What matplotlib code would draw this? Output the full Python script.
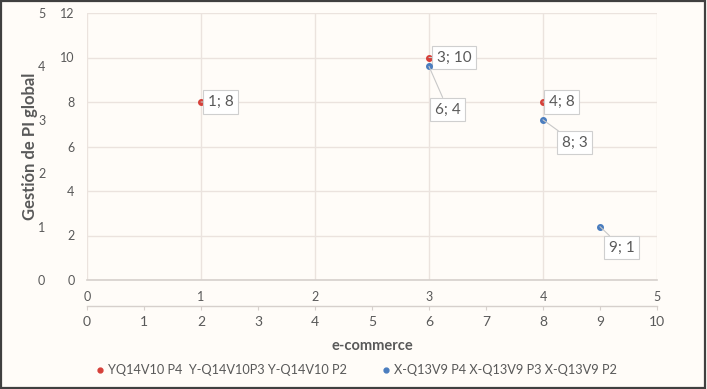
import matplotlib
matplotlib.use("Agg")
import matplotlib.pyplot as plt
from matplotlib.patches import Rectangle

plt.rcParams["font.family"] = ["Lato", "DejaVu Sans"]

# red series: secondary scales (x 0-5, y 0-12)
red_x = [1, 3, 4]
red_y = [8, 10, 8]
red_name = "YQ14V10 P4  Y-Q14V10P3 Y-Q14V10 P2"

# blue series: primary scales (x 0-10, y 0-5)
blue_x = [6, 8, 9]
blue_y = [4, 3, 1]
blue_name = "X-Q13V9 P4 X-Q13V9 P3 X-Q13V9 P2"

# label offsets in pixels (box left edge, box centre)
red_offsets = [(7, 0), (8, 0), (6, 0)]
blue_offsets = [(6, -43), (19, -23), (9, -21)]

bg = "#fffcf8"
text_c = "#595959"
grid_c = "#ebe3de"
red_c = "#d6403a"
blue_c = "#4a7dbf"

W, H = 707, 389
fig = plt.figure(figsize=(W / 100, H / 100), dpi=100)
fig.patch.set_facecolor(bg)
fig.patches.append(Rectangle((0.001, 0.002), 0.996, 0.995, transform=fig.transFigure,
                             fill=False, edgecolor="#404040", lw=1.6))

pos = [87 / W, 1 - 280 / H, 570 / W, 267 / H]
ax = fig.add_axes(pos)
ax.set_facecolor(bg)
ax.set_xlim(0, 5)
ax.set_ylim(0, 12)
ax.set_xticks(range(0, 6))
ax.set_yticks(range(0, 13, 2))
ax.grid(True, color=grid_c, lw=1.0)
ax.set_axisbelow(True)
for s in ["top", "right", "left"]:
    ax.spines[s].set_visible(False)
ax.spines["bottom"].set_color("#d6d0cc")
ax.spines["bottom"].set_linewidth(1.2)
ax.tick_params(axis="x", length=0, pad=8, labelsize=9, labelcolor=text_c)
ax.tick_params(axis="y", length=0, pad=9, labelsize=9, labelcolor=text_c)

ax2 = fig.add_axes(pos, sharex=None)
ax2.patch.set_visible(False)
ax2.set_xlim(0, 10)
ax2.set_ylim(0, 5)
ax2.set_xticks(range(0, 11))
ax2.set_yticks(range(0, 6))
for s in ["top", "right", "left"]:
    ax2.spines[s].set_visible(False)
ax2.spines["bottom"].set_position(("outward", 19))
ax2.spines["bottom"].set_color("#d6d0cc")
ax2.spines["bottom"].set_linewidth(1.0)
ax2.tick_params(axis="x", length=3, color="#d6d0cc", pad=4, labelsize=10, labelcolor=text_c)
ax2.tick_params(axis="y", length=0, pad=30, labelsize=9, labelcolor=text_c)

ax.scatter(red_x, red_y, s=16, color=red_c, zorder=5, clip_on=False)
ax2.scatter(blue_x, blue_y, s=16, color=blue_c, zorder=5, clip_on=False)

box = dict(boxstyle="square,pad=0.3", facecolor="white", edgecolor="#cfcfcf", lw=0.8)
arrow = dict(arrowstyle="-", color="#c8c8c8", lw=0.8, shrinkA=0, shrinkB=0)
for a, xs, ys, offs in [(ax, red_x, red_y, red_offsets), (ax2, blue_x, blue_y, blue_offsets)]:
    for x, y, (dx, dy) in zip(xs, ys, offs):
        a.annotate(f"{x}; {y}", (x, y), xytext=(dx, dy), textcoords="offset pixels",
                   ha="left", va="center", fontsize=11, color=text_c,
                   bbox=box, arrowprops=arrow, zorder=6)

fig.text(30 / W, 1 - 146 / H, "Gestión de PI global", rotation=90, ha="center", va="center",
         fontsize=12, fontweight="bold", color=text_c)
fig.text(372 / W, 1 - 346 / H, "e-commerce", ha="center", va="center",
         fontsize=10.5, fontweight="bold", color=text_c)

fig.lines.append(plt.Line2D([100 / W], [1 - 370 / H], marker="o", ms=3.5, color=red_c,
                            lw=0, transform=fig.transFigure))
fig.text(108 / W, 1 - 370 / H, red_name, ha="left", va="center", fontsize=9.2, color=text_c)
fig.lines.append(plt.Line2D([386 / W], [1 - 370 / H], marker="o", ms=3.5, color=blue_c,
                            lw=0, transform=fig.transFigure))
fig.text(394 / W, 1 - 370 / H, blue_name, ha="left", va="center", fontsize=9.2, color=text_c)

fig.savefig("out.png", dpi=100, facecolor=bg)
